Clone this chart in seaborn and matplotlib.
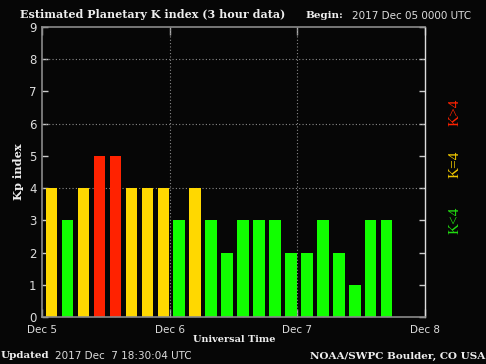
import matplotlib
matplotlib.use("Agg")
import matplotlib.pyplot as plt
import seaborn as sns
import numpy as np
import pandas as pd

# Kp index, 3 hour intervals starting 2017 Dec 05 00:00 UTC
kp_values = [4, 3, 4, 5, 5, 4, 4, 4,
             3, 4, 3, 2, 3, 3, 3, 2,
             2, 3, 2, 1, 3, 3]
day_labels = ["Dec 5", "Dec 6", "Dec 7", "Dec 8"]
y_ticks = list(range(0, 10))
grid_levels = [4, 6, 8]

col_green = "#11ff00"
col_yellow = "#ffd800"
col_red = "#ff2200"
bg = "#060606"

# position of each bar in days since Dec 5 (bar sits a bit right in its 3h slot)
slot = 1 / 8
df = pd.DataFrame({
    "t": [(i + 0.6) * slot for i in range(len(kp_values))],
    "kp": kp_values,
})
df["level"] = np.where(df["kp"] < 4, "low", np.where(df["kp"] == 4, "mid", "high"))
palette = {"low": col_green, "mid": col_yellow, "high": col_red}

sns.set_theme(style="dark")
plt.rcParams["font.family"] = ["DejaVu Sans"]

fig = plt.figure(figsize=(4.86, 3.64), dpi=100, facecolor=bg)
ax = fig.add_axes([42 / 486, 1 - 317 / 364, (425 - 42) / 486, (317 - 27) / 364])
ax.set_facecolor(bg)

sns.barplot(data=df, x="t", y="kp", hue="level", palette=palette,
            native_scale=True, dodge=False, width=0.72, legend=False,
            linewidth=0, saturation=1, ax=ax, zorder=2)

ax.set_xlim(0, 3)
ax.set_ylim(0, 9)

# dotted grid
for g in grid_levels:
    ax.axhline(g, color="#8a8a8a", lw=0.8, ls=(0, (1, 2)), zorder=1)
for d in [1, 2]:
    ax.axvline(d, color="#8a8a8a", lw=0.8, ls=(0, (1, 2)), zorder=3)

ax.set_xticks(range(len(day_labels)))
ax.set_xticklabels(day_labels)
ax.set_xticks(df["t"], minor=True)
ax.set_yticks(y_ticks)
ax.tick_params(axis="x", which="major", direction="in", length=6, width=1,
               colors="#aaaaaa", labelcolor="#dddddd", labelsize=7.5,
               top=True, bottom=True, pad=6)
ax.tick_params(axis="x", which="minor", direction="in", length=5, width=1,
               colors="#2a2a2a", top=False, bottom=True)
ax.tick_params(axis="y", direction="in", length=4, width=1, colors="#cccccc",
               labelcolor="#dddddd", labelsize=8.5, left=True, right=True, pad=4)
for lab in ax.get_xticklabels() + ax.get_yticklabels():
    lab.set_color("#dddddd")

for side in ["left", "bottom", "top"]:
    ax.spines[side].set_color("#8a8a8a")
    ax.spines[side].set_linewidth(1.2)
ax.spines["right"].set_color("#dddddd")
ax.spines["right"].set_linewidth(1)
ax.grid(False)
ax.set_xlabel("")
ax.set_ylabel("")


def px(x, y):
    return x / 486, 1 - y / 364


serif = ["DejaVu Serif"]
fig.text(*px(20, 14), "Estimated Planetary K index (3 hour data)", family=serif,
         weight="bold", size=8, color="#eeeeee", ha="left", va="center")
fig.text(*px(305, 16), "Begin:", family=serif, weight="bold", size=7.5,
         color="#eeeeee", ha="left", va="center")
fig.text(*px(352, 16), "2017 Dec 05 0000 UTC", size=7.5, color="#dddddd",
         ha="left", va="center")
fig.text(*px(18, 172), "Kp index", family=serif, weight="bold", size=8.2,
         color="#eeeeee", rotation=90, ha="center", va="center")
fig.text(*px(234, 340), "Universal Time", family=serif, weight="bold", size=7,
         color="#eeeeee", ha="center", va="center")
fig.text(*px(1, 356), "Updated", family=serif, weight="bold", size=7.5,
         color="#eeeeee", ha="left", va="center")
fig.text(*px(55, 356), "2017 Dec  7 18:30:04 UTC", size=7.5, color="#dddddd",
         ha="left", va="center")
fig.text(*px(485, 356), "NOAA/SWPC Boulder, CO USA", family=serif, weight="bold",
         size=7.5, color="#eeeeee", ha="right", va="center")

# colour key on the right
key_font = ["Liberation Serif"]
fig.text(*px(455, 112), "K>4", family=key_font, size=11, color=col_red,
         rotation=90, ha="center", va="center")
fig.text(*px(455, 164), "K=4", family=key_font, size=11, color="#f0c800",
         rotation=90, ha="center", va="center")
fig.text(*px(455, 220), "K<4", family=key_font, size=11, color="#22dd11",
         rotation=90, ha="center", va="center")

fig.savefig("out.png", dpi=100, facecolor=bg)
